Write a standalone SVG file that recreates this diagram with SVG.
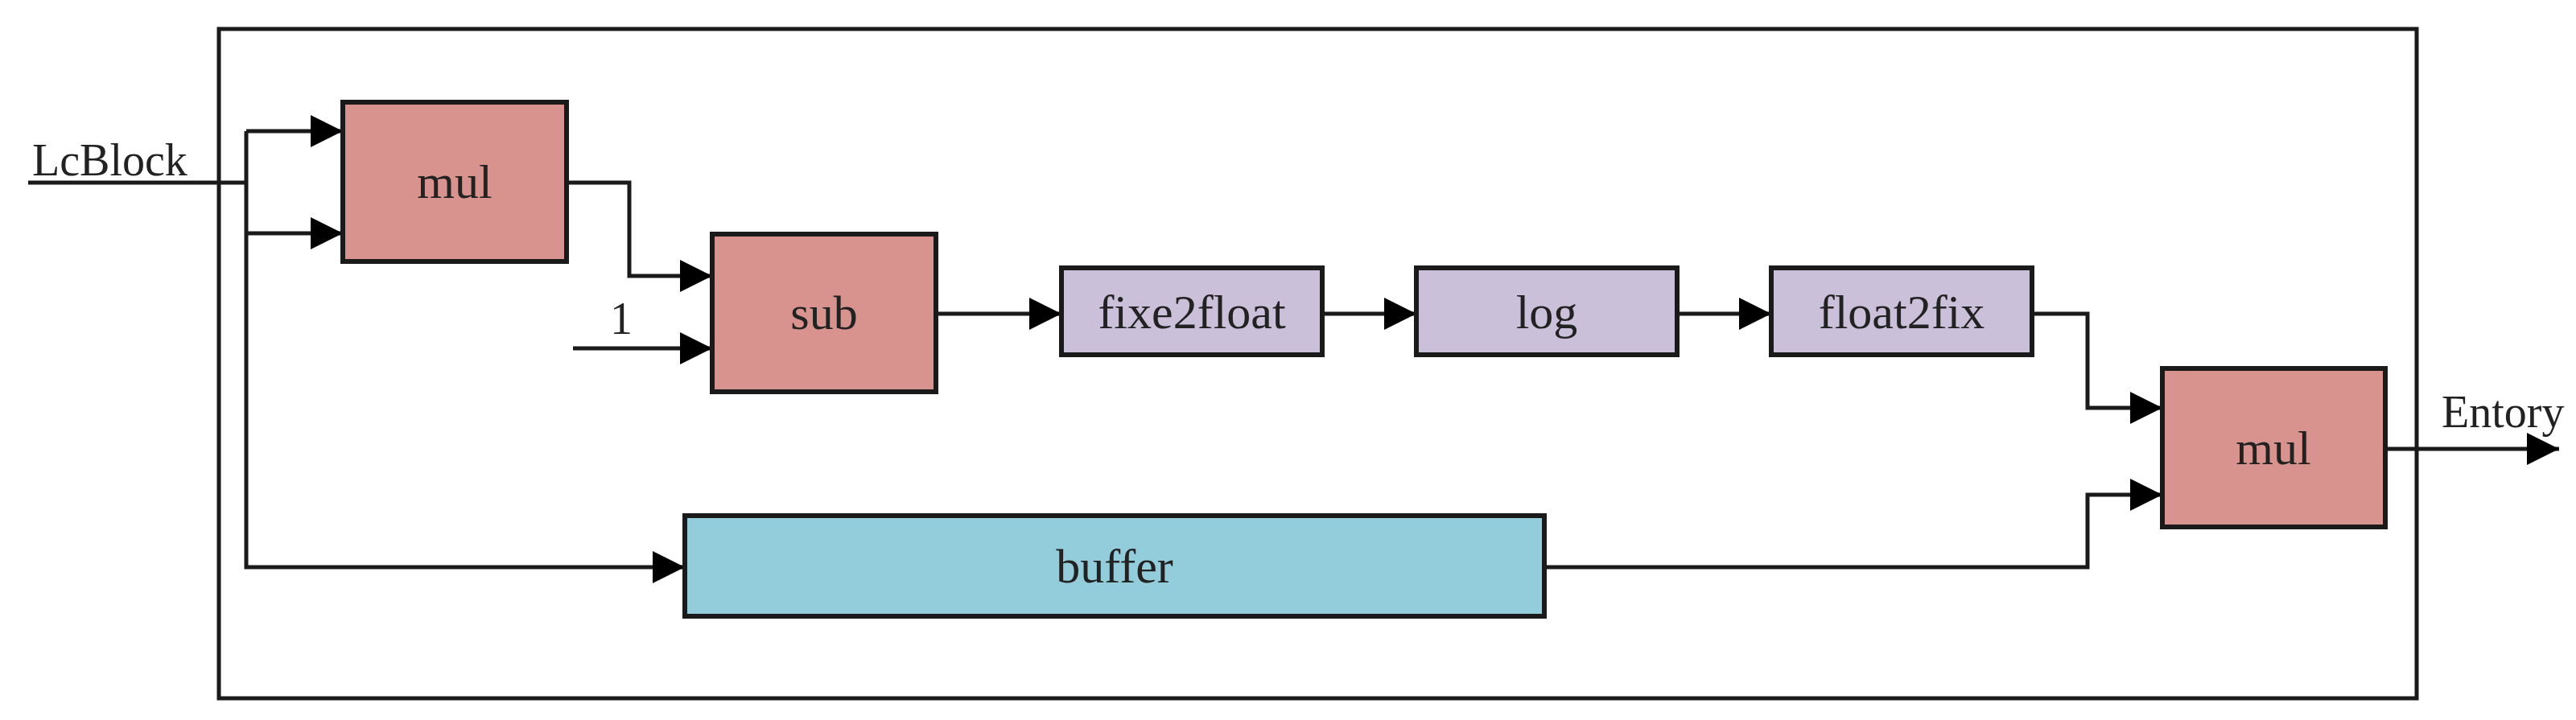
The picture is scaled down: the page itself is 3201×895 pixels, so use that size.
<svg xmlns="http://www.w3.org/2000/svg" width="3201" height="895" viewBox="0 0 3201 895">
<style>
.box{stroke:#1a1a1a;stroke-width:6}
.pink{fill:#D8938F}.purple{fill:#CBC0D9}.blue{fill:#93CDDB}
.t{font-family:"Liberation Serif",serif;font-size:60px;fill:#222;text-anchor:middle}
.l{font-family:"Liberation Serif",serif;font-size:56px;fill:#222}
.c{fill:none;stroke:#1a1a1a;stroke-width:5}
</style>
<defs>
<marker id="a" markerUnits="userSpaceOnUse" markerWidth="42" markerHeight="42" refX="40" refY="20" orient="auto">
<path d="M0,0 L40,20 L0,40 Z" fill="#000"/>
</marker>
</defs>
<rect x="272" y="36" width="2731" height="832" fill="none" stroke="#1a1a1a" stroke-width="5"/>
<g id="connectors">
<path class="c" d="M35,227 H306"/>
<path class="c" d="M306,163 V705 H851" marker-end="url(#a)"/>
<path class="c" d="M306,163 H426" marker-end="url(#a)"/>
<path class="c" d="M306,290 H426" marker-end="url(#a)"/>
<path class="c" d="M704,227 H782 V343 H885" marker-end="url(#a)"/>
<path class="c" d="M712,433 H885" marker-end="url(#a)"/>
<path class="c" d="M1163,390 H1319" marker-end="url(#a)"/>
<path class="c" d="M1643,390 H1760" marker-end="url(#a)"/>
<path class="c" d="M2084,390 H2201" marker-end="url(#a)"/>
<path class="c" d="M2525,390 H2594 V507 H2687" marker-end="url(#a)"/>
<path class="c" d="M1919,705 H2594 V615 H2687" marker-end="url(#a)"/>
<path class="c" d="M2964,558 H3180" marker-end="url(#a)"/>
<text class="l" x="40" y="218">LcBlock</text>
<text class="l" x="758" y="415">1</text>
<text class="l" x="3034" y="531">Entory</text>
</g>
<g id="mul1"><rect class="box pink" x="426" y="127" width="278" height="198"/><text class="t" x="565" y="246">mul</text></g>
<g id="sub"><rect class="box pink" x="885" y="291" width="278" height="196"/><text class="t" x="1024" y="409">sub</text></g>
<g id="fixe2float"><rect class="box purple" x="1319" y="333" width="324" height="108"/><text class="t" x="1481" y="408">fixe2float</text></g>
<g id="log"><rect class="box purple" x="1760" y="333" width="324" height="108"/><text class="t" x="1922" y="408">log</text></g>
<g id="float2fix"><rect class="box purple" x="2201" y="333" width="324" height="108"/><text class="t" x="2363" y="408">float2fix</text></g>
<g id="mul2"><rect class="box pink" x="2687" y="458" width="277" height="197"/><text class="t" x="2825" y="577">mul</text></g>
<g id="buffer"><rect class="box blue" x="851" y="641" width="1068" height="125"/><text class="t" x="1385" y="724">buffer</text></g>
</svg>
